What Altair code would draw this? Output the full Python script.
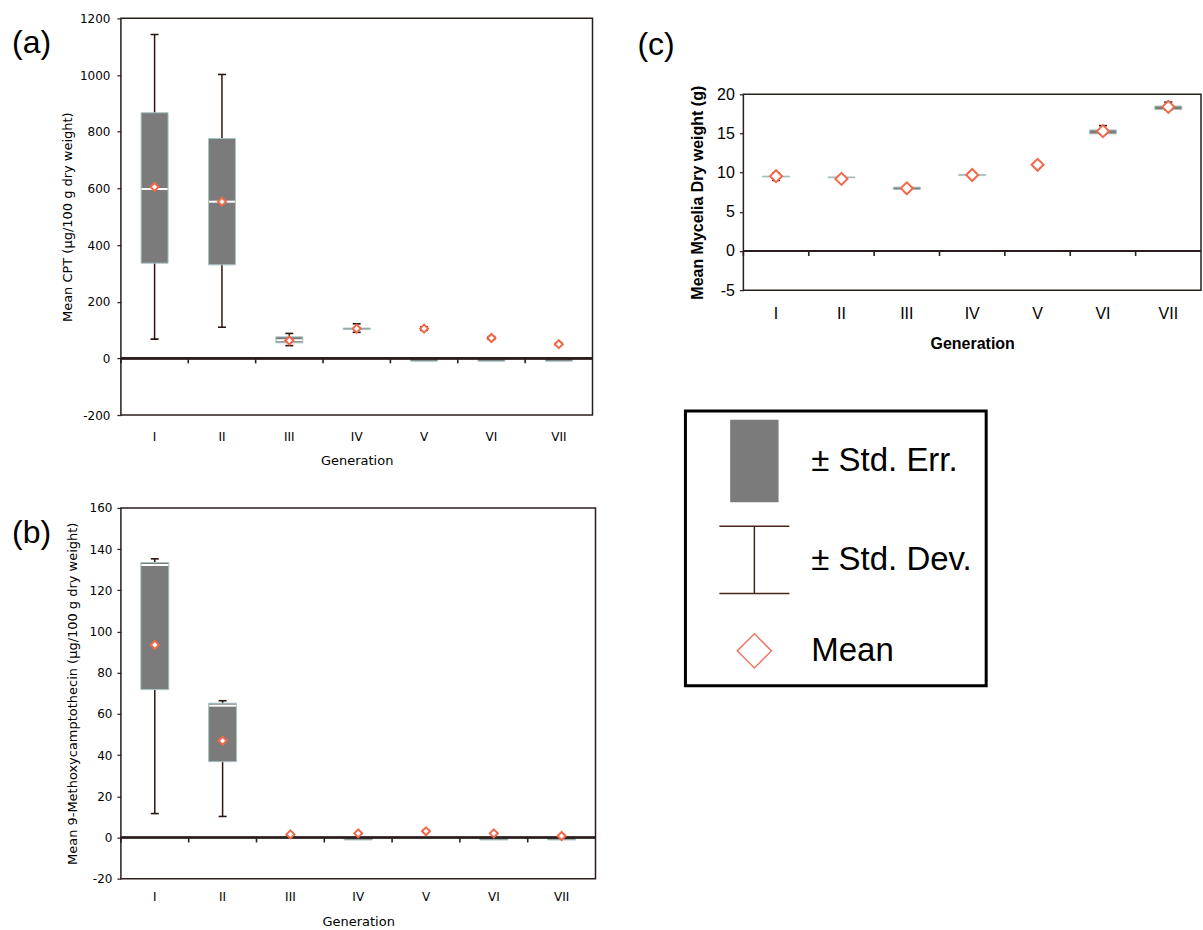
import altair as alt
import pandas as pd

gens = ["I", "II", "III", "IV", "V", "VI", "VII"]

# Panel (a): CPT (ug/100 g dry weight)
cpt_mean = [605, 553, 63, 105, 105, 72, 50]
cpt_se_lo = [336, 330, 55, 102, -10, -10, -10]
cpt_se_hi = [867, 776, 76, 107, -1, -1, -1]
cpt_sd_lo = [68, 110, 45, 92, 99, 67, 47]
cpt_sd_hi = [1143, 1002, 88, 122, 111, 77, 53]
cpt_median = [598, 553, 64, None, None, None, None]

# Panel (b): 9-Methoxycamptothecin (ug/100 g dry weight)
m9_mean = [93.5, 47, 1.5, 2.0, 3.0, 2.0, 0.7]
m9_se_lo = [71.8, 36.8, None, -1.2, None, -1.2, -1.2]
m9_se_hi = [133.5, 65.2, None, -0.2, None, -0.2, -0.2]
m9_sd_lo = [11.6, 10.2, 1.2, 1.8, 2.8, 1.8, 0.5]
m9_sd_hi = [135.3, 66.4, 1.8, 2.2, 3.4, 2.2, 0.9]
m9_median = [132.3, 64.0, None, None, None, None, None]

# Panel (c): Mycelia dry weight (g)
myc_mean = [9.55, 9.2, 8.0, 9.7, 11.0, 15.3, 18.4]
myc_se_lo = [9.45, 9.35, 7.85, 9.65, None, 14.95, 18.05]
myc_se_hi = [9.55, 9.45, 8.15, 9.75, None, 15.45, 18.5]
myc_sd_lo = [9.0, 9.1, 7.9, 9.6, 10.9, 14.9, 18.0]
myc_sd_hi = [9.95, 9.55, 8.1, 9.9, 11.1, 16.0, 19.0]
myc_median = [None, None, None, None, None, None, None]

legend_items = ["\u00b1 Std. Err.", "\u00b1 Std. Dev.", "Mean"]

FRAME = "#2a1f1c"
WHISK = "#2b1710"
BOX = "#7b7b7b"
BOX_EDGE = "#a9c3c5"
MEAN = "#f2684a"


def make_df(mean, se_lo, se_hi, sd_lo, sd_hi, med):
    return pd.DataFrame({"gen": gens, "mean": mean, "se_lo": se_lo, "se_hi": se_hi,
                         "sd_lo": sd_lo, "sd_hi": sd_hi, "median": med})


def panel(df, ydom, yvals, ytitle, w, h, font, lab_size, t_size, t_weight,
          ylab_pad, ytitle_pad, xlab_pad, xtitle_pad, box_w, dia_size, cap_w, title,
          extra=None):
    xscale = alt.Scale(type="band", domain=gens, paddingInner=0, paddingOuter=0)
    yscale = alt.Scale(domain=ydom, nice=False, zero=False)
    x_axis = alt.Axis(orient="bottom", domain=False, ticks=False, labelAngle=0,
                      labelFont=font, labelFontSize=lab_size, labelColor="black",
                      labelPadding=xlab_pad, title="Generation", titleFont=font,
                      titleFontSize=t_size, titleFontWeight=t_weight,
                      titlePadding=xtitle_pad, titleColor="black", grid=False)
    y_axis = alt.Axis(values=yvals, labelExpr="datum.value + ''", domain=False,
                      ticks=True, tickSize=4, tickColor=FRAME, tickWidth=1.2,
                      labelFont=font, labelFontSize=lab_size, labelColor="black",
                      labelPadding=ylab_pad, title=ytitle, titleFont=font,
                      titleFontSize=t_size, titleFontWeight=t_weight, titleColor="black",
                      titlePadding=ytitle_pad, grid=False)
    X = alt.X("gen:N", scale=xscale, axis=x_axis)

    def Y(field):
        return alt.Y(field, scale=yscale, axis=y_axis)

    base = alt.Chart(df)
    whisker = base.mark_rule(color=WHISK, strokeWidth=1.5).encode(
        x=X, y=Y("sd_lo:Q"), y2="sd_hi:Q")
    box = base.mark_bar(size=box_w, color=BOX, stroke=BOX_EDGE, strokeWidth=1).encode(
        x=X, y=Y("se_lo:Q"), y2="se_hi:Q")
    med = base.mark_tick(color="white", thickness=2, size=box_w - 1, opacity=1).encode(
        x=X, y=Y("median:Q"))
    zero_line = base.mark_rule(color=FRAME, strokeWidth=1.6).encode(
        y=alt.datum(0, scale=yscale, axis=y_axis))
    zero_ticks = base.mark_point(shape="M0,0L0,1", size=100, filled=False, color=FRAME,
                                 strokeWidth=1.6, opacity=1).encode(
        x=alt.X("gen:N", scale=xscale, axis=x_axis, bandPosition=0),
        y=alt.datum(0, scale=yscale, axis=y_axis))
    cap_lo = base.mark_tick(color=WHISK, thickness=1.6, size=cap_w, opacity=1).encode(
        x=X, y=Y("sd_lo:Q"))
    cap_hi = base.mark_tick(color=WHISK, thickness=1.6, size=cap_w, opacity=1).encode(
        x=X, y=Y("sd_hi:Q"))
    mean = base.mark_point(shape="diamond", filled=True, fill="white", stroke=MEAN,
                           strokeWidth=2, size=dia_size, opacity=1).encode(
        x=X, y=Y("mean:Q"))
    layers = [whisker, box, med, zero_line, zero_ticks, cap_lo, cap_hi, mean]
    if extra is not None:
        layers.append(extra)
    return alt.layer(*layers).properties(width=w, height=h, title=title)


df_a = make_df(cpt_mean, cpt_se_lo, cpt_se_hi, cpt_sd_lo, cpt_sd_hi, cpt_median)
df_b = make_df(m9_mean, m9_se_lo, m9_se_hi, m9_sd_lo, m9_sd_hi, m9_median)
df_c = make_df(myc_mean, myc_se_lo, myc_se_hi, myc_sd_lo, myc_sd_hi, myc_median)

title_a = alt.TitleParams("(a)", anchor="start", frame="group", orient="top",
                          font="Liberation Sans", fontSize=32, fontWeight="normal",
                          color="black", dx=-109, dy=48, offset=0)
title_b = alt.TitleParams("(b)", anchor="start", frame="group", orient="top",
                          font="Liberation Sans", fontSize=32, fontWeight="normal",
                          color="black", dx=-109, dy=48, offset=0)
title_c = alt.TitleParams("(c)", anchor="start", frame="group", orient="top",
                          font="Liberation Sans", fontSize=32, fontWeight="normal",
                          color="black", dx=-106, offset=23)

# legend (custom symbol paths)
rect_path = "M-0.67,-1.16H0.67V1.16H-0.67Z"
ibar_path = "M-1,-0.96H1M0,-0.96V0.96M-1,0.96H1"
dia_path = "M0,-0.49L0.49,0L0,0.49L-0.49,0Z"
leg = alt.Legend(orient="none", legendX=-58, legendY=317, title=None,
                 strokeColor="black", fillColor="white", padding=14,
                 rowPadding=18, symbolSize=4900, symbolStrokeWidth=1.5, symbolOffset=19,
                 labelOffset=21, labelFont="Liberation Sans", labelFontSize=33,
                 labelColor="black", labelLimit=400)
legend_layer = alt.Chart(pd.DataFrame({"item": legend_items})).mark_point(
    filled=True, opacity=1).encode(
    shape=alt.Shape("item:N", scale=alt.Scale(domain=legend_items,
                                              range=[rect_path, ibar_path, dia_path]),
                    legend=leg),
    fill=alt.Fill("item:N", scale=alt.Scale(domain=legend_items,
                                            range=[BOX, "transparent", "white"]),
                  legend=leg),
    stroke=alt.Stroke("item:N", scale=alt.Scale(domain=legend_items,
                                                range=[BOX, "#4a2418", "#f07a6a"]),
                      legend=leg),
).transform_filter("false")

pa = panel(df_a, [-200, 1200], [-200, 0, 200, 400, 600, 800, 1000, 1200],
           "Mean CPT (\u03bcg/100 g dry weight)", 472, 397, "DejaVu Sans", 12, 13,
           "normal", 7, 5, 16, 12, 27, 64, 8, title_a)
pb = panel(df_b, [-20, 160], [-20, 0, 20, 40, 60, 80, 100, 120, 140, 160],
           "Mean 9-Methoxycamptothecin (\u03bcg/100 g dry weight)", 475, 371,
           "DejaVu Sans", 12, 13, "normal", 5, 10, 13, 13, 28, 64, 8, title_b)
pc = panel(df_c, [-5, 20], [-5, 0, 5, 10, 15, 20], "Mean Mycelia Dry weight (g)",
           458, 196, "Liberation Sans", 16, 16, "bold", 5, 11, 15, 14, 27, 144, 8,
           title_c, extra=legend_layer)

# empty spacer that pushes panel (c) down relative to panel (a)
spacer = alt.Chart(pd.DataFrame({"s": [0]})).mark_point(opacity=0, size=1).properties(
    width=1, height=4, view=alt.ViewBackground(stroke="transparent"))

left = alt.vconcat(pa, pb, spacing=33)
right = alt.vconcat(spacer, pc, spacing=5).resolve_legend(
    shape="independent", fill="independent", stroke="independent")
chart = alt.hconcat(left, right, spacing=39).resolve_legend(
    shape="independent", fill="independent", stroke="independent").properties(
    padding={"left": 11, "top": 11, "right": 0, "bottom": 0},
    background="white",
).configure_view(stroke=FRAME, strokeWidth=1.5).configure_legend(strokeWidth=3)

chart.save("out.html", embed_options={"renderer": "svg", "actions": False})
